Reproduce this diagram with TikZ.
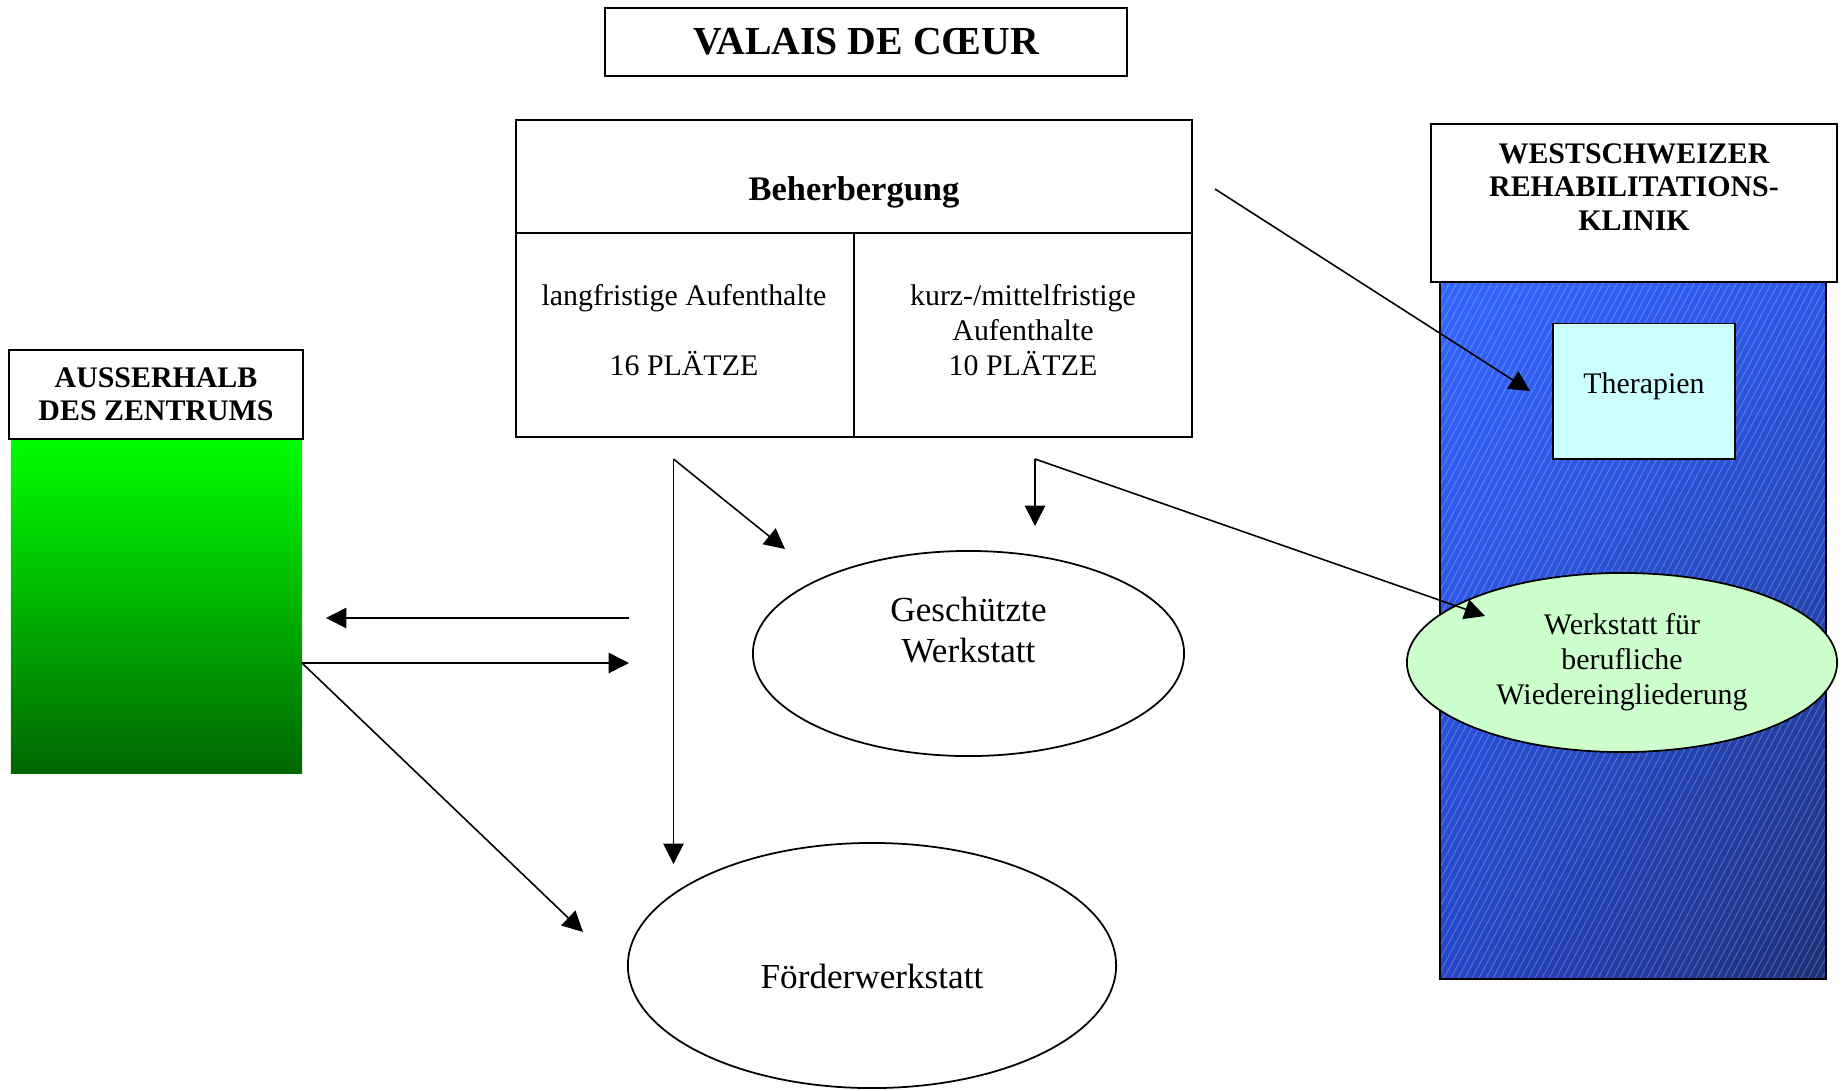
\documentclass[tikz,border=0pt]{standalone}
\usepackage{fontspec}
\setmainfont{Liberation Serif}
\usetikzlibrary{shapes.geometric,arrows.meta,shadings}
\definecolor{ltcyan}{HTML}{CCFFFF}
\definecolor{ltgreen}{HTML}{CCFFCC}
\definecolor{grtop}{HTML}{00FF00}
\definecolor{grbot}{HTML}{006600}
\definecolor{blUL}{HTML}{3366FF}
\definecolor{blUR}{HTML}{2B55E6}
\definecolor{blLL}{HTML}{2645C8}
\definecolor{blLR}{HTML}{1C2F78}
\begin{document}
\begin{tikzpicture}[x=0.01cm,y=-0.01cm,
  box/.style={draw,line width=0.55pt,rectangle,inner sep=0pt,align=center},
  ell/.style={draw,line width=0.5pt,ellipse,inner sep=0pt,align=center},
  arr/.style={line width=0.45pt,-{Triangle[length=5.8pt,width=5.8pt]}},
  hatch/.style={white,draw opacity=0.22,line width=0.3pt},
  fbig/.style={font=\fontsize{11.3}{13}\selectfont\bfseries},
  fhead/.style={font=\fontsize{9.8}{11.5}\selectfont\bfseries},
  fcell/.style={font=\fontsize{8.5}{9.9}\selectfont},
  fsmallb/.style={font=\fontsize{8.5}{9.5}\selectfont\bfseries},
  fell/.style={font=\fontsize{10}{11.6}\selectfont}]
\useasboundingbox (0,0) rectangle (1847,1090);

% title
\node[box,fbig,minimum width=5.22cm,minimum height=0.68cm] (title) at (866,42) {VALAIS DE CŒUR};

% Beherbergung
\node[box,minimum width=6.76cm,minimum height=1.13cm] (beh) at (854,176.5) {};
\node[fhead] (behtext) at (854,192) {Beherbergung};
\node[box,minimum width=3.38cm,minimum height=2.04cm] (lang) at (685,335) {};
\node[box,minimum width=3.38cm,minimum height=2.04cm] (kurz) at (1023,335) {};
\node[fcell,align=center] (langtext) at (684,330) {langfristige Aufenthalte\\[9.9pt]16 PLÄTZE};
\node[fcell,align=center] (kurztext) at (1023,330) {kurz-/mittelfristige\\Aufenthalte\\10 PLÄTZE};

% Ausserhalb
\node[rectangle,inner sep=0pt,minimum width=2.91cm,minimum height=3.34cm,top color=grtop,bottom color=grbot] (green) at (156.5,606) {};
\node[box,fill=white,fsmallb,minimum width=2.94cm,minimum height=0.89cm] (aus) at (156,394.5) {AUSSERHALB\\DES ZENTRUMS};

% Westschweizer
\node[rectangle,inner sep=0pt,minimum width=3.84cm,minimum height=6.96cm,
  upper left=blUL,upper right=blUR,lower left=blLL,lower right=blLR] (blue) at (1633,630) {};
\begin{scope}
  \clip (blue.south west) rectangle (blue.north east);
  \foreach \i in {0,...,112}
    \draw[hatch] ({1065+7*\i},980) -- ({1065+7*\i+372},280);
\end{scope}
\draw[line width=0.55pt] (blue.south west) rectangle (blue.north east);
\node[box,fill=white,minimum width=4.06cm,minimum height=1.58cm] (west) at (1634,203) {};
\node[fsmallb,align=center] (westtext) at (1634,187) {WESTSCHWEIZER\\REHABILITATIONS-\\KLINIK};
\node[box,fill=ltcyan,minimum width=1.81cm,minimum height=1.35cm] (ther) at (1644,391) {};
\node[fcell] (thertext) at (1644,386) {Therapien};
\node[ell,fill=ltgreen,fcell,minimum width=4.3cm,minimum height=1.79cm] (wfb) at (1622,662.5) {Werkstatt für\\berufliche\\Wiedereingliederung};

% workshops
\node[ell,minimum width=4.31cm,minimum height=2.05cm] (gw) at (968.5,653.5) {};
\node[fell,align=center] (gwtext) at (968.5,630) {Geschützte\\Werkstatt};
\node[ell,minimum width=4.88cm,minimum height=2.45cm] (fw) at (872,965.5) {};
\node[fell] (fwtext) at (872,976) {Förderwerkstatt};

% connector end points
\coordinate (c1) at (1215,189);
\coordinate (c2) at (1530,391);
\coordinate (c3) at (673.5,459);
\coordinate (c4) at (673.5,864);
\coordinate (c5) at (785,549);
\coordinate (c6) at (1035,459);
\coordinate (c7) at (1035,526);
\coordinate (c8) at (1485,616);
\coordinate (c9) at (629,618);
\coordinate (c10) at (326,618);
\coordinate (c11) at (302,663);
\coordinate (c12) at (629,663);
\coordinate (c13) at (583,932);

\draw[arr] (c1) -- (c2);
\draw[arr] (c3) -- (c4);
\draw[arr] (c3) -- (c5);
\draw[arr] (c6) -- (c7);
\draw[arr] (c6) -- (c8);
\draw[arr] (c9) -- (c10);
\draw[arr] (c11) -- (c12);
\draw[arr] (c11) -- (c13);
\end{tikzpicture}
\end{document}
